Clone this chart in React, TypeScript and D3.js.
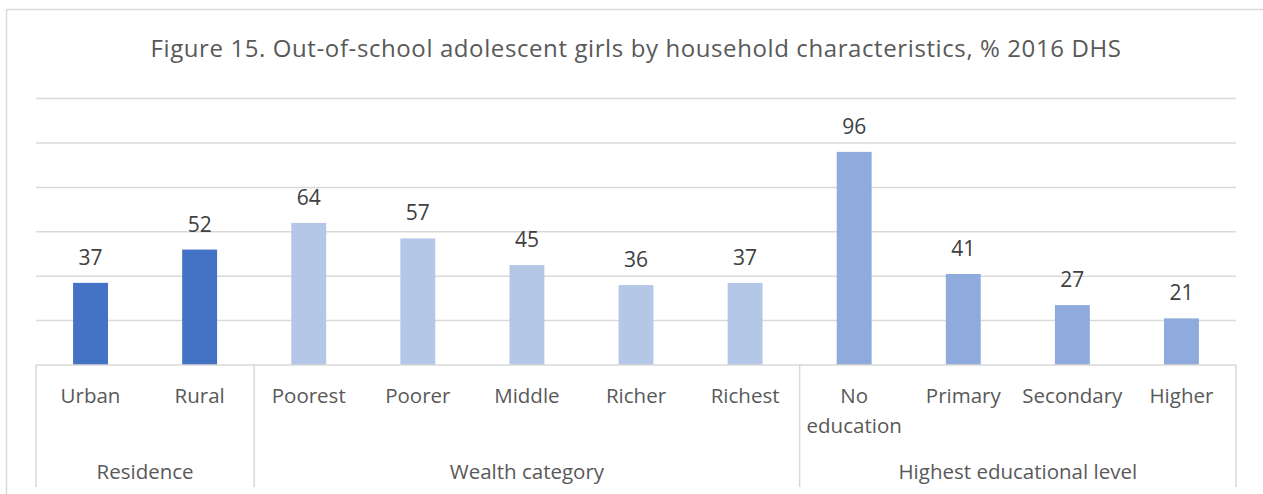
import React from 'react';
import * as d3 from 'd3';

// Out-of-school adolescent girls, % (2016 DHS)
const categories = ['Urban', 'Rural', 'Poorest', 'Poorer', 'Middle', 'Richer', 'Richest', 'No education', 'Primary', 'Secondary', 'Higher'];
const values = [37, 52, 64, 57, 45, 36, 37, 96, 41, 27, 21];
const groupNames = ['Residence', 'Wealth category', 'Highest educational level'];
const groupSizes = [2, 5, 4];
const groupColors = ['#4472C4', '#B4C7E7', '#8FAADC'];
const yTicks = [0, 20, 40, 60, 80, 100, 120];

const W = 1263;
const H = 494;
const FONT = '"Open Sans", "DejaVu Sans", sans-serif';
const GRID = '#D9D9D9';

const App: React.FC = () => {
  const left = 36;
  const right = 1236;
  const base = 365;

  const x = d3.scaleBand<string>().domain(categories).range([left, right]);
  const y = d3.scaleLinear().domain([0, 120]).range([base, 98.6]);
  const barW = x.bandwidth() * 0.32;

  // which group each category belongs to
  const groupOf: number[] = [];
  groupSizes.forEach((n, g) => { for (let i = 0; i < n; i++) groupOf.push(g); });

  // group boundaries (start index of each group)
  const starts: number[] = [];
  let acc = 0;
  groupSizes.forEach(n => { starts.push(acc); acc += n; });

  const edgeX = (i: number) => (i < categories.length ? (x(categories[i]) as number) : right);

  return (
    <svg width={W} height={H} style={{ position: 'absolute', left: 0, top: 0, background: '#fff' }}>
      {/* chart frame */}
      <line x1={6.5} y1={9.5} x2={W} y2={9.5} stroke={GRID} strokeWidth={1.5} />
      <line x1={6.5} y1={9.5} x2={6.5} y2={H} stroke={GRID} strokeWidth={1.5} />

      <text x={636} y={57} textAnchor="middle" fontFamily={FONT} fontSize={24} letterSpacing={0.6} fill="#595959">
        Figure 15. Out-of-school adolescent girls by household characteristics, % 2016 DHS
      </text>

      {/* gridlines */}
      {yTicks.filter(t => t > 0).map(t => (
        <line key={t} x1={left} x2={right} y1={y(t)} y2={y(t)} stroke={GRID} strokeWidth={1.5} />
      ))}

      {/* bars */}
      {categories.map((c, i) => {
        const cx = (x(c) as number) + x.bandwidth() / 2;
        return (
          <g key={c}>
            <rect x={cx - barW / 2} y={y(values[i])} width={barW} height={base - y(values[i])} fill={groupColors[groupOf[i]]} />
            <text x={cx} y={y(values[i]) - 18} textAnchor="middle" fontFamily={FONT} fontSize={21} fill="#404040">
              {values[i]}
            </text>
          </g>
        );
      })}

      {/* category axis */}
      <line x1={left} x2={right} y1={base} y2={base} stroke={GRID} strokeWidth={1.5} />
      {[...starts, categories.length].map(i => (
        <line key={i} x1={edgeX(i)} x2={edgeX(i)} y1={base} y2={487} stroke={GRID} strokeWidth={1.5} />
      ))}

      {categories.map(c => {
        const cx = (x(c) as number) + x.bandwidth() / 2;
        const lines = c.length > 10 && c.includes(' ') ? c.split(' ') : [c];
        return (
          <text key={c} x={cx} y={403} textAnchor="middle" fontFamily={FONT} fontSize={20.5} fill="#595959">
            {lines.map((l, k) => (
              <tspan key={k} x={cx} dy={k === 0 ? 0 : 30}>{l}</tspan>
            ))}
          </text>
        );
      })}

      {groupNames.map((g, gi) => {
        const x0 = edgeX(starts[gi]);
        const x1 = edgeX(starts[gi] + groupSizes[gi]);
        return (
          <text key={g} x={(x0 + x1) / 2} y={479} textAnchor="middle" fontFamily={FONT} fontSize={20.5} fill="#595959">
            {g}
          </text>
        );
      })}
    </svg>
  );
};

export default App;
